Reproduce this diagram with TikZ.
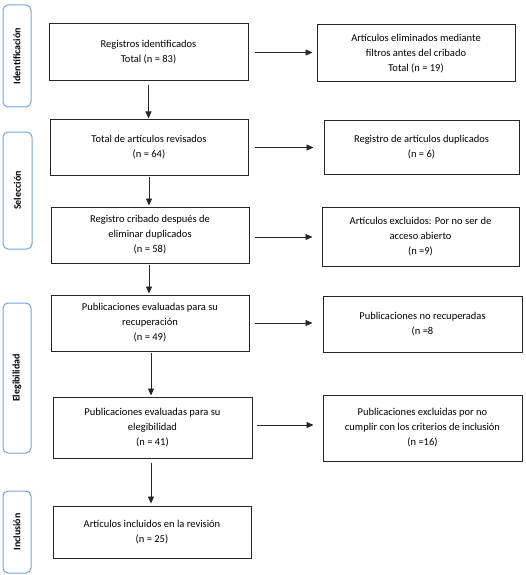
\documentclass[tikz,border=0pt]{standalone}
\usepackage{fontspec}
\setmainfont{Carlito}
\usetikzlibrary{arrows.meta}
\definecolor{sideblue}{RGB}{110,165,220}
\tikzset{
  box/.style={draw=black!85, line width=1pt, align=center, inner sep=2pt,
    font=\fontsize{10.5}{15}\selectfont},
  side/.style={draw=sideblue, line width=1pt, rounded corners=5pt, rotate=90,
    font=\fontsize{10}{12}\selectfont\bfseries, inner sep=1pt},
  arr/.style={-{Triangle[length=7pt,width=6pt]}, line width=0.8pt, black!85},
}
\begin{document}
\begin{tikzpicture}[x=1pt,y=-1pt]
\useasboundingbox (0,0) rectangle (525,575);
% side labels
\node[side, minimum width=102, minimum height=28] (s1) at (17,56) {Identificación};
\node[side, minimum width=117, minimum height=29] (s2) at (17.5,190.5) {Selección};
\node[side, minimum width=150, minimum height=28] (s3) at (17,378) {Elegibilidad};
\node[side, minimum width=82, minimum height=28] (s4) at (17,532) {Inclusión};
% main boxes
\node[box, minimum width=199, minimum height=57] (m1) at (148.5,52.5) {Registros identificados\\Total (n = 83)};
\node[box, minimum width=198, minimum height=55] (m2) at (149,147.5) {Total de artículos revisados\\(n = 64)};
\node[box, minimum width=198, minimum height=56] (m3) at (150,235) {Registro cribado después de\\eliminar duplicados\\(n = 58)};
\node[box, minimum width=198, minimum height=56] (m4) at (150,323) {Publicaciones evaluadas para su\\recuperación\\(n = 49)};
\node[box, minimum width=199, minimum height=61] (m5) at (152.5,427.5) {Publicaciones evaluadas para su\\elegibilidad\\(n = 41)};
\node[box, minimum width=198, minimum height=52] (m6) at (152,532) {Artículos incluidos en la revisión\\(n = 25)};
% right boxes
\node[box, minimum width=198, minimum height=57] (r1) at (416,53.5) {Artículos eliminados mediante\\filtros antes del cribado\\Total (n = 19)};
\node[box, minimum width=195, minimum height=53] (r2) at (421.5,147.5) {Registro de artículos duplicados\\(n = 6)};
\node[box, minimum width=197, minimum height=59] (r3) at (420.5,236.5) {Artículos excluidos: Por no ser de\\acceso abierto\\(n =9)};
\node[box, minimum width=199, minimum height=56] (r4) at (422.5,324) {Publicaciones no recuperadas\\(n =8};
\node[box, minimum width=199, minimum height=66] (r5) at (422.5,428) {Publicaciones excluidas por no\\cumplir con los criterios de inclusión\\(n =16)};
% horizontal arrows
\draw[arr, shorten <=6pt, shorten >=4pt] (m1.east) -- (m1.east -| r1.west);
\draw[arr, shorten <=6pt, shorten >=10pt] (m2.east) -- (m2.east -| r2.west);
\draw[arr, shorten <=5pt, shorten >=9pt] (m3.east) ++(0,2) coordinate (a3) -- (a3 -| r3.west);
\draw[arr, shorten <=5pt, shorten >=10pt] (m4.east) -- (m4.east -| r4.west);
\draw[arr, shorten <=4pt, shorten >=9pt] (m5.east) ++(0,-2.5) coordinate (a5) -- (a5 -| r5.west);
% vertical arrows
\draw[arr, shorten <=4pt, shorten >=1pt] (m1.south) -- (m1.south |- m2.north);
\draw[arr, shorten <=1pt, shorten >=1pt] (m2.south) -- (m2.south |- m3.north);
\draw[arr, shorten <=1pt, shorten >=1pt] (m3.south) ++(-1,0) coordinate (v3) -- (v3 |- m4.north);
\draw[arr, shorten <=1pt, shorten >=1pt] (m4.south) ++(1,0) coordinate (v4) -- (v4 |- m5.north);
\draw[arr, shorten <=4pt, shorten >=2pt] (m5.south) ++(-1.5,0) coordinate (v5) -- (v5 |- m6.north);
\end{tikzpicture}
\end{document}
